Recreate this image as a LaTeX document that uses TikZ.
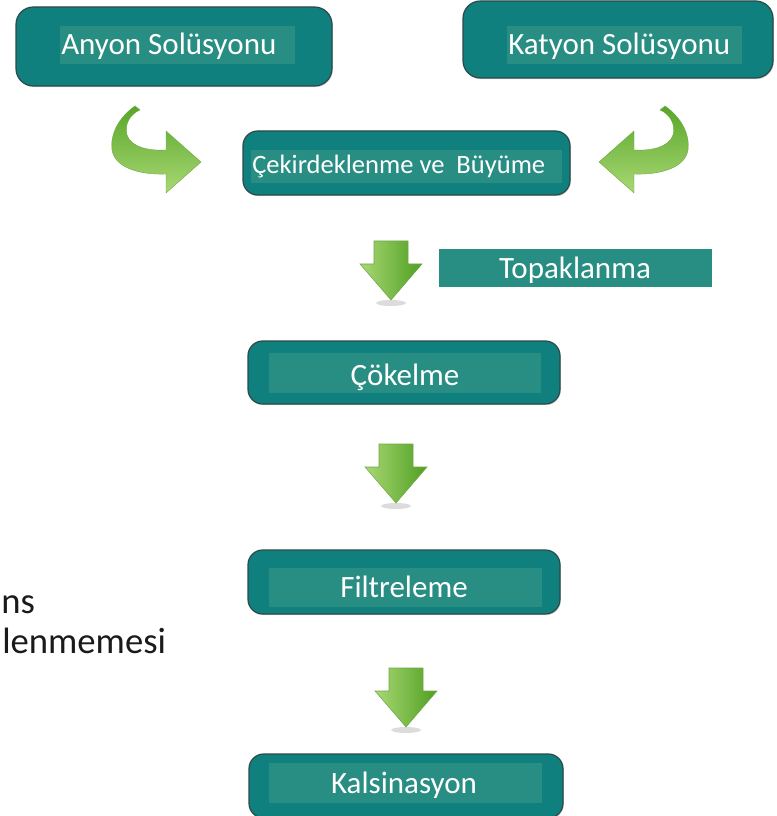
\documentclass[tikz,border=0pt]{standalone}
\usepackage{fontspec}
\setmainfont{Carlito}
\usetikzlibrary{fit,shadows}

\definecolor{boxteal}{HTML}{0F807D}
\definecolor{innerteal}{HTML}{288D82}
\definecolor{boxedge}{HTML}{2C4A4A}
\definecolor{greenlight}{HTML}{A9D874}
\definecolor{greenmid}{HTML}{7CC242}
\definecolor{greendark}{HTML}{4F9F22}
\definecolor{greenedge}{HTML}{6FA845}
\definecolor{inktext}{HTML}{1A1A1A}

\tikzset{
  stagebox/.style={draw=boxedge, line width=0.9pt, fill=boxteal, rounded corners=13pt,
    inner sep=0pt, drop shadow={shadow xshift=0.6pt, shadow yshift=-0.9pt, opacity=0.35}},
  labelband/.style={fill=innerteal, inner sep=0pt},
  bigtext/.style={text=white, inner sep=0pt, font=\fontsize{23.25}{28}\selectfont},
  midtext/.style={text=white, inner sep=0pt, font=\fontsize{19.9}{24}\selectfont},
  sidetext/.style={text=inktext, inner sep=0pt, font=\fontsize{27.5}{33}\selectfont},
  hookshade/.style={top color=greendark!80!greenmid, bottom color=greenlight, draw=greenedge, line width=0.3pt},
  downarrow/.pic={
    \fill[black!30, opacity=0.45] (0,62) ellipse [x radius=15, y radius=3];
    \shade[left color=greenlight, right color=greendark, draw=greenedge, line width=0.4pt]
      (-17,0) -- (17,0) -- (17,23) -- (31,23) -- (0,59) -- (-31,23) -- (-17,23) -- cycle;
  }
}

\begin{document}
\begin{tikzpicture}[x=0.75pt, y=-0.75pt]
  \useasboundingbox (0,0) rectangle (776,816);

  % source solutions
  \node[stagebox, fit={(16,7)(332,86)}] (anyon) {};
  \node[labelband, fit={(60,26)(295,64)}] (anyonband) {};
  \node[bigtext, anchor=base west] (anyontext) at (61,55) {Anyon Solüsyonu};

  \node[stagebox, fit={(463,1)(773,78)}] (katyon) {};
  \node[labelband, fit={(507,26)(742,64)}] (katyonband) {};
  \node[bigtext, anchor=base west] (katyontext) at (508,55) {Katyon Solüsyonu};

  % nucleation and growth
  \node[stagebox, rounded corners=11pt, fit={(243,131)(570,195)}] (cekir) {};
  \node[labelband, fit={(251,150)(562,183)}] (cekirband) {};
  \node[midtext, anchor=base west] (cekirtext) at (252,174) {Çekirdeklenme ve\ \ Büyüme};

  % curved feed arrows
  \shade[hookshade] (135,106) .. controls (118,118) and (110,135) .. (112,150)
    .. controls (115,168) and (140,175) .. (166,174) -- (166,193) -- (201,162)
    -- (166,131) -- (166,150) .. controls (148,151) and (131,147) .. (127,135)
    .. controls (124,125) and (130,114) .. (140,110) -- cycle;
  \begin{scope}[shift={(800,0)}, xscale=-1]
    \shade[hookshade] (135,106) .. controls (118,118) and (110,135) .. (112,150)
      .. controls (115,168) and (140,175) .. (166,174) -- (166,193) -- (201,162)
      -- (166,131) -- (166,150) .. controls (148,151) and (131,147) .. (127,135)
      .. controls (124,125) and (130,114) .. (140,110) -- cycle;
  \end{scope}

  % agglomeration step
  \pic at (391,241) {downarrow};
  \node[labelband, fit={(439,249)(712,287)}] (topak) {};
  \node[bigtext, anchor=base] (topaktext) at (575,278) {Topaklanma};

  % precipitation
  \node[stagebox, rounded corners=11pt, fit={(248,341)(560,404)}] (cokel) {};
  \node[labelband, fit={(269,353)(541,393)}] (cokelband) {};
  \node[bigtext, anchor=base] (cokeltext) at (405,385) {Çökelme};

  \pic at (396,444) {downarrow};

  % filtration
  \node[stagebox, rounded corners=11pt, fit={(248,550)(560,614)}] (filtre) {};
  \node[labelband, fit={(269,568)(542,607)}] (filtreband) {};
  \node[bigtext, anchor=base] (filtretext) at (404,597) {Filtreleme};

  \pic at (406,668) {downarrow};

  % calcination
  \node[stagebox, rounded corners=11pt, fit={(249,754)(563,818)}] (kalsin) {};
  \node[labelband, fit={(269,763)(542,803)}] (kalsinband) {};
  \node[bigtext, anchor=base] (kalsintext) at (404,793) {Kalsinasyon};

  % side text
  \node[sidetext, anchor=base west] (sideone) at (1,613) {ns};
  \node[sidetext, anchor=base west] (sidetwo) at (2,653) {lenmemesi};
\end{tikzpicture}
\end{document}
